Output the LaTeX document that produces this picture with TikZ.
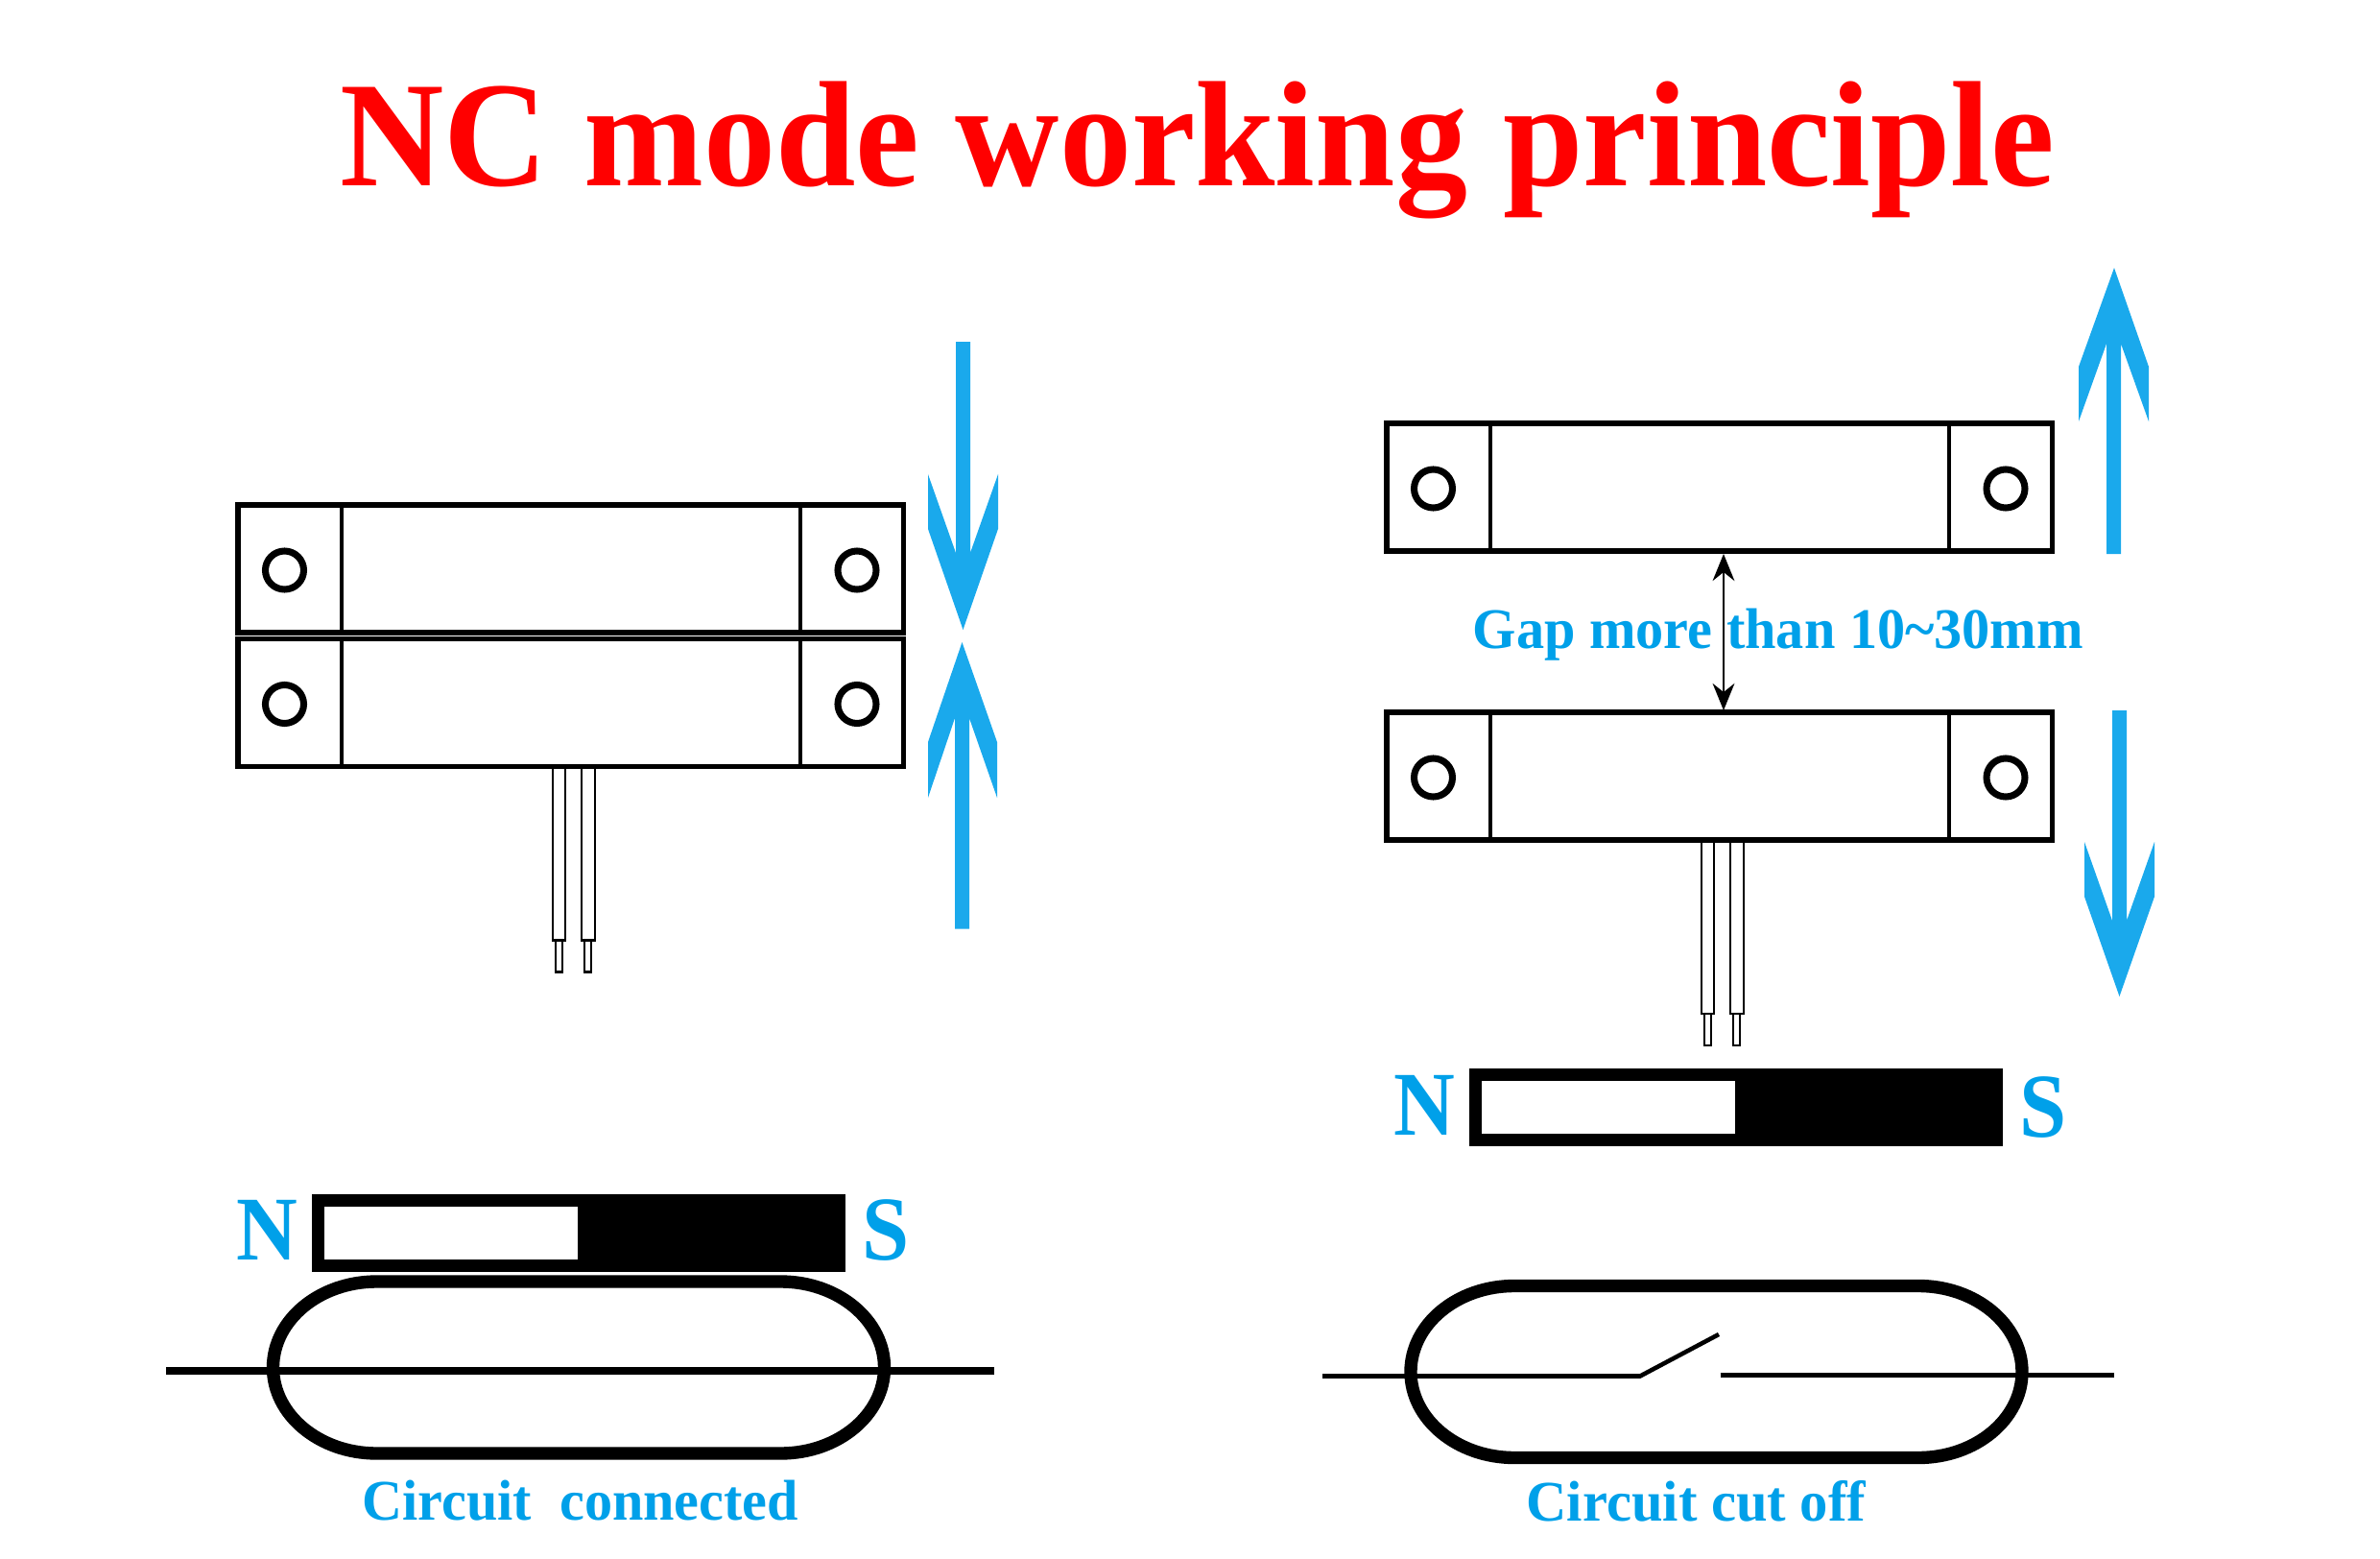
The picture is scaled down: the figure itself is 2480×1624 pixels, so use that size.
\documentclass[tikz,border=0pt]{standalone}
\usepackage{fontspec}
\setmainfont{Liberation Serif}
\usetikzlibrary{arrows.meta}
\definecolor{labelblue}{HTML}{00A0E9}
\definecolor{arrowblue}{HTML}{1AA9EC}

\begin{document}
\begin{tikzpicture}[x = .01cm, y = -.01cm,
case/.style = {draw = black, line width = 1.5pt},
divider/.style = {draw = black, line width = 1.3pt},
hole/.style = {draw = black, line width = 2pt},
wire/.style = {draw = black, line width = .7pt},
glass/.style = {draw = black, line width = 3.8pt},
label/.style = {text = labelblue, font = \bfseries\fontsize{17}{17}\selectfont, inner sep = 0pt, anchor = base west, transform shape},
pole/.style = {text = labelblue, font = \bfseries\fontsize{27}{27}\selectfont, inner sep = 0pt, anchor = base west, transform shape, xscale = .93},
sensor/.pic = {
	\draw[case] (0,0) rectangle (693.5,133);
	\foreach \i in {108, 586}{
		\draw[divider] (\i,0) -- (\i,133);
	}
	\foreach \i in {48.5, 645}{
		\draw[hole] (\i,68) circle [radius = 20];
	}
},
leads/.pic = {
	\foreach \i/\j in {328/341, 358/372}{
		\draw[wire] (\i,133) rectangle (\j,314);
	}
	\foreach \i/\j in {331/338, 361/368}{
		\draw[wire] (\i,314) rectangle (\j,347);
	}
},
magnet/.pic = {
	\fill[black] (0,0) rectangle (556.5,81);
	\fill[white] (13.5,13) rectangle (277,68);
},
capsule/.pic = {
	\draw[glass] (0,0) arc [start angle = 180, end angle = 270, x radius = 108, y radius = 89.5]
		-- ++(421,0) arc [start angle = 270, end angle = 360, x radius = 108, y radius = 89.5]
		arc [start angle = 0, end angle = 90, x radius = 108, y radius = 89.5]
		-- ++(-421,0) arc [start angle = 90, end angle = 180, x radius = 108, y radius = 89.5] -- cycle;
}
]
\useasboundingbox (0,0) rectangle (2480,1624);

\node[text = red, font = \bfseries\fontsize{44.5}{44.5}\selectfont, inner sep = 0pt, anchor = base west, transform shape, xscale = .958] (title) at (354,193) {NC mode working principle};

% left side, closed
\pic at (248,526) {sensor};
\pic at (248,665.5) {sensor};
\pic at (248,665.5) {leads};
\fill[arrowblue] (996,356) -- (1011,356) -- (1011,576) -- (1040,494) -- (1040,551) -- (1003.5,656) -- (967,551) -- (967,494) -- (996,576) -- cycle;
\fill[arrowblue] (995,967.5) -- (1010,967.5) -- (1010,748) -- (1039,831) -- (1039,773) -- (1002.5,669) -- (967,773) -- (967,831) -- (995,748) -- cycle;

\pic at (324.5,1244) {magnet};
\node[pole] (northL) at (246,1312) {N};
\node[pole] (southL) at (898,1312) {S};
\pic at (284.5,1424.5) {capsule};
\draw[black, line width = 2.3pt] (173,1428) -- (1035.5,1428);
\node[label, xscale = .973] (connected) at (377,1583) {Circuit\ \ connected};

% right side, apart
\pic at (1445,441) {sensor};
\pic at (1445,742) {sensor};
\pic at (1445,742) {leads};
\fill[arrowblue] (2195,577) -- (2210,577) -- (2210,358) -- (2239,439) -- (2239,382) -- (2203,279) -- (2166,382) -- (2166,439) -- (2195,358) -- cycle;
\fill[arrowblue] (2201,740) -- (2216,740) -- (2216,959) -- (2245,877) -- (2245,934) -- (2208.5,1038) -- (2172,934) -- (2172,877) -- (2201,959) -- cycle;

\coordinate (gapTop) at (1796,577);
\coordinate (gapBottom) at (1796,740);
\draw[{Stealth[length = 8pt, width = 6.5pt]}-{Stealth[length = 8pt, width = 6.5pt]}, line width = .45pt] (gapTop) -- (gapBottom);
\node[label, xscale = .975] (gap) at (1534,675) {Gap more than 10\char`~30mm};

\pic at (1530.5,1113) {magnet};
\node[pole] (northR) at (1452,1182) {N};
\node[pole] (southR) at (2104,1184) {S};
\pic at (1470,1429) {capsule};
\draw[black, line width = 1.3pt] (1378,1433.5) -- (1709,1433.5) -- (1791,1390);
\draw[black, line width = 1.3pt] (1792.5,1432.5) -- (2203,1432.5);
\node[label, xscale = .98] (cutoff) at (1590,1584.5) {Circuit cut off};
\end{tikzpicture}
\end{document}
